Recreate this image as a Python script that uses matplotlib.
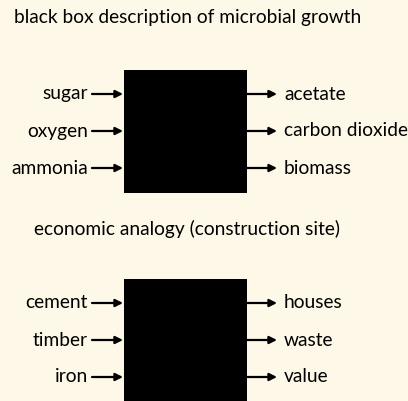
import matplotlib.pyplot as plt
from matplotlib.patches import Rectangle

# diagram text
title_top = "black box description of microbial growth"
inputs_top = ["sugar", "oxygen", "ammonia"]
outputs_top = ["acetate", "carbon dioxide", "biomass"]

title_bottom = "economic analogy (construction site)"
inputs_bottom = ["cement", "timber", "iron"]
outputs_bottom = ["houses", "waste", "value"]

bg = "#fdf8e7"
plt.rcParams['font.family'] = ['Lato', 'DejaVu Sans']

fig = plt.figure(figsize=(4.08, 4.01), dpi=100, facecolor=bg)
ax = fig.add_axes([0, 0, 1, 1])
ax.set_facecolor(bg)
ax.set_xlim(0, 408)
ax.set_ylim(401, 0)
ax.axis("off")


def black_box(top, ins, outs):
    # box itself
    ax.add_patch(Rectangle((124, top), 123, 123, facecolor="black", edgecolor="none"))
    for i, (a, b) in enumerate(zip(ins, outs)):
        y = top + 24 + i * 37
        ax.annotate("", xy=(123, y), xytext=(92, y),
                    arrowprops=dict(arrowstyle="-|>", color="black", lw=1.6,
                                    mutation_scale=11, shrinkA=0, shrinkB=0))
        ax.annotate("", xy=(277, y), xytext=(247, y),
                    arrowprops=dict(arrowstyle="-|>", color="black", lw=1.6,
                                    mutation_scale=11, shrinkA=0, shrinkB=0))
        ax.text(88, y, a, ha="right", va="center", fontsize=13.8)
        ax.text(284, y, b, ha="left", va="center", fontsize=13.8)


ax.text(14, 18, title_top, ha="left", va="center", fontsize=13.8)
black_box(70, inputs_top, outputs_top)

ax.text(187, 229, title_bottom, ha="center", va="center", fontsize=13.8)
black_box(279, inputs_bottom, outputs_bottom)

fig.savefig("out.png", dpi=100, facecolor=bg)
